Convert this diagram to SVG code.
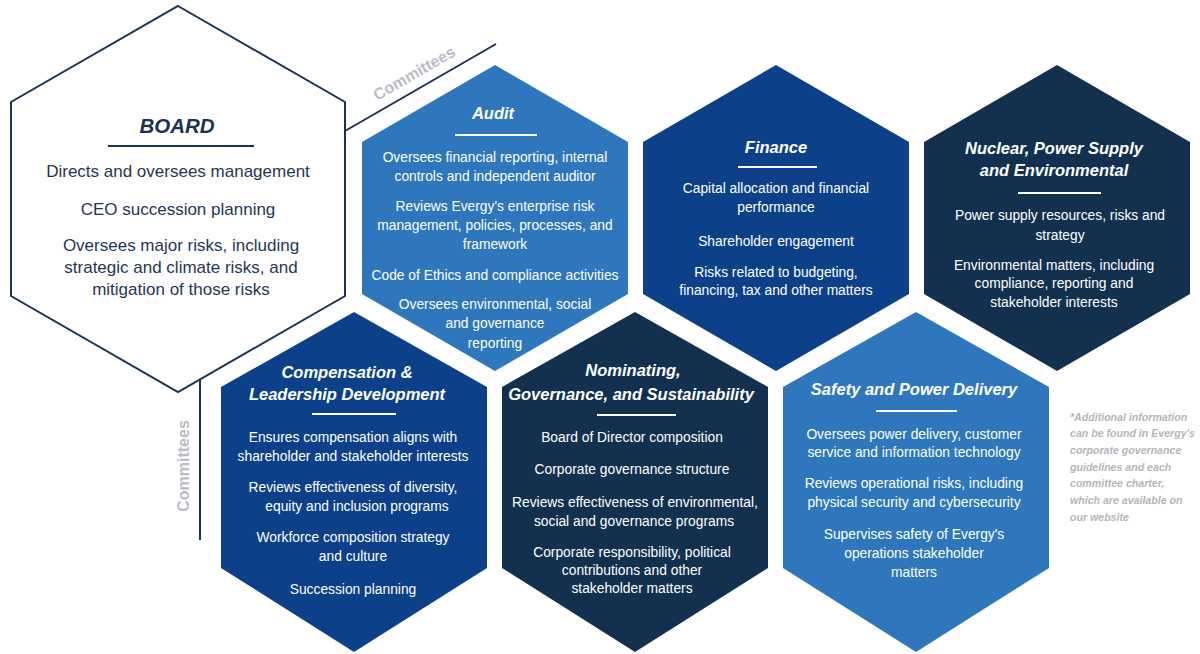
<svg xmlns="http://www.w3.org/2000/svg" width="1200" height="654" viewBox="0 0 1200 654">
<style>
.body{font-family:"Liberation Sans",Arial,sans-serif;font-size:13.8px;fill:#ffffff;text-anchor:middle}
.title{font-family:"Liberation Sans",Arial,sans-serif;font-size:16.5px;font-weight:bold;font-style:italic;fill:#ffffff;text-anchor:middle}
.bbody{font-family:"Liberation Sans",Arial,sans-serif;font-size:17px;fill:#1f3656;text-anchor:middle}
.rule{stroke:#ffffff;stroke-width:2}
.comm{font-family:"Liberation Sans",Arial,sans-serif;font-size:16px;font-weight:bold;fill:#b9bcc4;text-anchor:middle}
.note{font-family:"Liberation Sans",Arial,sans-serif;font-size:10.6px;font-weight:bold;font-style:italic;fill:#b3b5bc}
.link{stroke:#1a3352;stroke-width:2;fill:none}
</style>
<rect width="1200" height="654" fill="#ffffff"/>
<g id="connectors">
<line class="link" x1="345" y1="131" x2="496" y2="44"/>
<line class="link" x1="200" y1="379" x2="200" y2="540"/>
<text class="comm" transform="translate(417,78) rotate(-30)">Committees</text>
<text class="comm" transform="translate(189,466) rotate(-90)">Committees</text>
</g>
<g id="board">
<polygon points="178,6 345,102 345,296 178,392 11,296 11,102" fill="#ffffff" stroke="#1a3352" stroke-width="2"/>
<text x="177" y="133" font-family="Liberation Sans, Arial, sans-serif" font-size="20.5" font-weight="bold" font-style="italic" fill="#1a3352" text-anchor="middle">BOARD</text>
<line x1="108" y1="146" x2="254" y2="146" stroke="#1a3352" stroke-width="2.2"/>
<text class="bbody" x="178" y="177">Directs and oversees management</text>
<text class="bbody" x="178" y="215">CEO succession planning</text>
<text class="bbody" x="181" y="251">Oversees major risks, including</text>
<text class="bbody" x="181" y="273">strategic and climate risks, and</text>
<text class="bbody" x="181" y="295">mitigation of those risks</text>
</g>
<g id="audit">
<polygon points="495,65 628,142 628,294 495,371 362,294 362,142" fill="#2e77bc"/>
<text class="title" x="493" y="119">Audit</text>
<line class="rule" x1="455" y1="135" x2="537" y2="135"/>
<text class="body" x="495" y="162">Oversees financial reporting, internal</text>
<text class="body" x="495" y="181">controls and independent auditor</text>
<text class="body" x="495" y="211">Reviews Evergy's enterprise risk</text>
<text class="body" x="495" y="230">management, policies, processes, and</text>
<text class="body" x="495" y="249">framework</text>
<text class="body" x="495" y="280">Code of Ethics and compliance activities</text>
<text class="body" x="495" y="309">Oversees environmental, social</text>
<text class="body" x="495" y="328">and governance</text>
<text class="body" x="495" y="348">reporting</text>
</g>
<g id="finance">
<polygon points="776,65 909,142 909,294 776,371 643,294 643,142" fill="#0c418a"/>
<text class="title" x="776" y="153">Finance</text>
<line class="rule" x1="738" y1="167" x2="817" y2="167"/>
<text class="body" x="776" y="193">Capital allocation and financial</text>
<text class="body" x="776" y="212">performance</text>
<text class="body" x="776" y="246">Shareholder engagement</text>
<text class="body" x="776" y="277">Risks related to budgeting,</text>
<text class="body" x="776" y="295">financing, tax and other matters</text>
</g>
<g id="nuclear">
<polygon points="1057,65 1190,142 1190,294 1057,371 924,294 924,142" fill="#13314f"/>
<text class="title" x="1054" y="154">Nuclear, Power Supply</text>
<text class="title" x="1054" y="176">and Environmental</text>
<line class="rule" x1="1018" y1="193" x2="1101" y2="193"/>
<text class="body" x="1060" y="220">Power supply resources, risks and</text>
<text class="body" x="1060" y="240">strategy</text>
<text class="body" x="1054" y="270">Environmental matters, including</text>
<text class="body" x="1054" y="288">compliance, reporting and</text>
<text class="body" x="1054" y="307">stakeholder interests</text>
</g>
<g id="compensation">
<polygon points="354,312 487,387 487,568 354,652 221,568 221,387" fill="#0c418a"/>
<text class="title" x="347" y="378">Compensation &amp;</text>
<text class="title" x="347" y="400">Leadership Development</text>
<line class="rule" x1="312" y1="414" x2="396" y2="414"/>
<text class="body" x="353" y="442">Ensures compensation aligns with</text>
<text class="body" x="353" y="461">shareholder and stakeholder interests</text>
<text class="body" x="353" y="492">Reviews effectiveness of diversity,</text>
<text class="body" x="357" y="511">equity and inclusion programs</text>
<text class="body" x="353" y="542">Workforce composition strategy</text>
<text class="body" x="353" y="561">and culture</text>
<text class="body" x="353" y="594">Succession planning</text>
</g>
<g id="nominating">
<polygon points="635,312 768,387 768,568 635,652 502,568 502,387" fill="#13314f"/>
<text class="title" x="633" y="376">Nominating,</text>
<text class="title" x="631" y="400">Governance, and Sustainability</text>
<line class="rule" x1="597" y1="415" x2="676" y2="415"/>
<text class="body" x="632" y="442">Board of Director composition</text>
<text class="body" x="632" y="474">Corporate governance structure</text>
<text class="body" x="635" y="507">Reviews effectiveness of environmental,</text>
<text class="body" x="634" y="526">social and governance programs</text>
<text class="body" x="632" y="557">Corporate responsibility, political</text>
<text class="body" x="632" y="575">contributions and other</text>
<text class="body" x="632" y="593">stakeholder matters</text>
</g>
<g id="safety">
<polygon points="916,312 1049,387 1049,568 916,652 783,568 783,387" fill="#2e77bc"/>
<text class="title" x="914" y="395">Safety and Power Delivery</text>
<line class="rule" x1="876" y1="411" x2="957" y2="411"/>
<text class="body" x="914" y="439">Oversees power delivery, customer</text>
<text class="body" x="914" y="457">service and information technology</text>
<text class="body" x="914" y="488">Reviews operational risks, including</text>
<text class="body" x="914" y="507">physical security and cybersecurity</text>
<text class="body" x="914" y="539">Supervises safety of Evergy's</text>
<text class="body" x="914" y="558">operations stakeholder</text>
<text class="body" x="914" y="577">matters</text>
</g>
<g id="footnote">
<text class="note" x="1070" y="421">*Additional information</text>
<text class="note" x="1070" y="437">can be found in Evergy's</text>
<text class="note" x="1070" y="454">corporate governance</text>
<text class="note" x="1070" y="471">guidelines and each</text>
<text class="note" x="1070" y="487">committee charter,</text>
<text class="note" x="1070" y="504">which are available on</text>
<text class="note" x="1070" y="521">our website</text>
</g>
</svg>
